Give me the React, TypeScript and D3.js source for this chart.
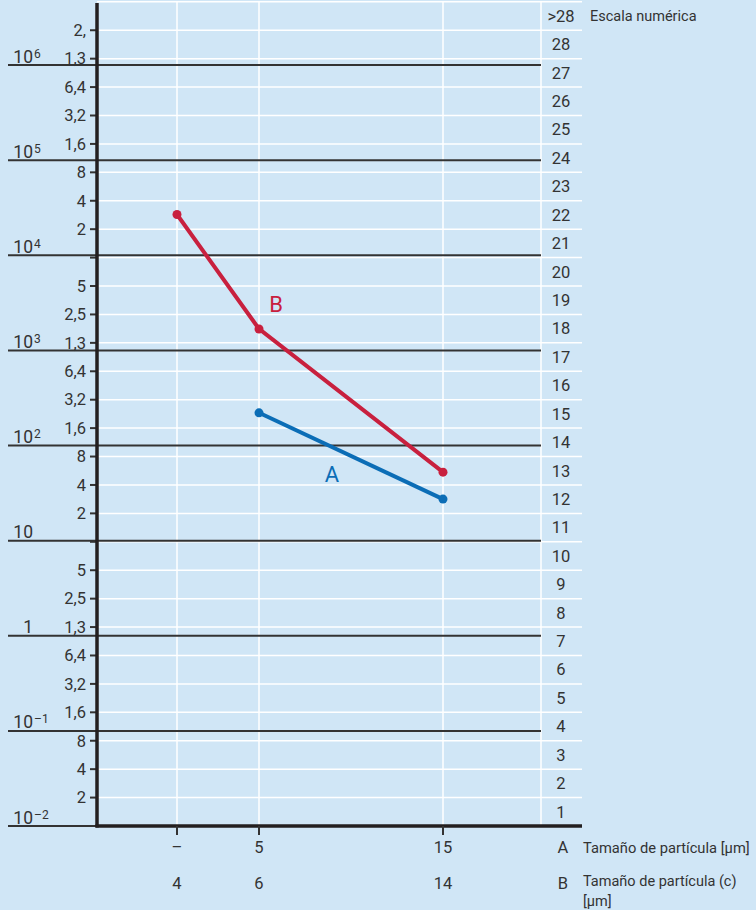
import * as d3 from "d3";

// particle counts per ml (log2 scale)
const sizesB = [4, 6, 14];
const sizesA = ["–", "5", "15"];
const seriesB = [30000, 1840, 56];
const seriesA = [null, 238, 29];

const leftTickLabels = [
  "2", "4", "8", "1,6", "3,2", "6,4", "1,3", "2,5", "5", "",
  "2", "4", "8", "1,6", "3,2", "6,4", "1,3", "2,5", "5", "",
  "2", "4", "8", "1,6", "3,2", "6,4", "1,3", "2,",
];
const decadeExps = [-2, -1, 0, 1, 2, 3, 4, 5, 6];
const codeLabels = [
  "1", "2", "3", "4", "5", "6", "7", "8", "9", "10", "11", "12", "13", "14",
  "15", "16", "17", "18", "19", "20", "21", "22", "23", "24", "25", "26", "27", "28", ">28",
];

const W = 756;
const H = 910;
const left = 97;
const right = 541;
const gridRight = 582;
const bottom = 826;
const step = 28.42;
const font = "Roboto, 'Open Sans', sans-serif";
const ink = "#333333";
const bg = "#d0e6f6";
const red = "#c8203e";
const blue = "#0b6db6";

const base = 0.01;
const y = d3
  .scaleLog()
  .base(2)
  .domain([base, base * 2 ** 29])
  .range([bottom, bottom - 29 * step]);

// decade lines are drawn on their own, slightly different spacing
const yDec = d3.scaleLinear().domain([-2, 6]).range([bottom, 65]);

const x = d3
  .scaleLinear()
  .domain([2, 4, 6, 14, 18])
  .range([left, 177, 259, 443, right]);

const tickY = (k: number) => y(base * 2 ** k);

const supText = (e: number) => (e === 0 || e === 1 ? "" : String(e).replace("-", "–"));

export default function App() {
  const line = d3
    .line<[number, number]>()
    .x((d) => x(d[0]))
    .y((d) => y(d[1]));

  const ptsB: [number, number][] = sizesB.map((s, i) => [s, seriesB[i]]);
  const ptsA: [number, number][] = sizesB
    .map((s, i) => [s, seriesA[i]] as [number, number | null])
    .filter((d) => d[1] != null) as [number, number][];

  const ks = d3.range(0, 30);

  return (
    <svg
      width={W}
      height={H}
      style={{ position: "absolute", left: 0, top: 0, fontFamily: font }}
    >
      <rect width={W} height={H} fill={bg} />

      {/* white grid */}
      {ks.map((k) => (
        <line
          key={"h" + k}
          x1={left}
          x2={gridRight}
          y1={tickY(k)}
          y2={tickY(k)}
          stroke="#fff"
          strokeWidth={1.5}
        />
      ))}
      {[...sizesB, 18].map((s) => (
        <line
          key={"v" + s}
          x1={x(s)}
          x2={x(s)}
          y1={tickY(29)}
          y2={bottom}
          stroke="#fff"
          strokeWidth={1.5}
        />
      ))}

      {/* decade lines */}
      {decadeExps.map((e) => (
        <g key={"d" + e}>
          <line
            x1={8}
            x2={right}
            y1={yDec(e)}
            y2={yDec(e)}
            stroke={ink}
            strokeWidth={2}
          />
          <text
            x={33}
            y={yDec(e) - 2.5}
            textAnchor="end"
            fontSize={17.5}
            fill={ink}
          >
            {e === 0 ? "1" : "10"}
          </text>
          {supText(e) && (
            <text x={34} y={yDec(e) - 7.5} fontSize={12} fill={ink}>
              {supText(e)}
            </text>
          )}
        </g>
      ))}

      {/* left ticks */}
      {leftTickLabels.map((lab, i) => (
        <g key={"lt" + i} transform={`translate(0,${tickY(i + 1)})`}>
          <line x1={90} x2={left} stroke={ink} strokeWidth={2} />
          <text x={86} dy="0.35em" textAnchor="end" fontSize={16.5} fill={ink}>
            {lab}
          </text>
        </g>
      ))}

      {/* right code scale */}
      {codeLabels.map((lab, i) => (
        <text
          key={"c" + i}
          x={561}
          y={(tickY(i) + tickY(i + 1)) / 2}
          dy="0.35em"
          textAnchor="middle"
          fontSize={16.5}
          fill={ink}
        >
          {lab}
        </text>
      ))}
      <text x={590} y={21} fontSize={14.5} fill={ink}>
        Escala numérica
      </text>

      {/* axes */}
      <line x1={left} x2={left} y1={3} y2={bottom + 1.5} stroke="#231f20" strokeWidth={3.5} />
      <line x1={left - 1.5} x2={gridRight} y1={bottom} y2={bottom} stroke="#231f20" strokeWidth={3.5} />

      {/* bottom ticks and labels */}
      {sizesB.map((s, i) => (
        <g key={"bt" + i} transform={`translate(${x(s)},0)`}>
          <line y1={bottom} y2={bottom + 9} stroke={ink} strokeWidth={2} />
          <text y={853} textAnchor="middle" fontSize={16.5} fill={ink}>
            {sizesA[i]}
          </text>
          <text y={889} textAnchor="middle" fontSize={16.5} fill={ink}>
            {s}
          </text>
        </g>
      ))}
      <text x={563} y={853} textAnchor="middle" fontSize={16.5} fill={ink}>
        A
      </text>
      <text x={583} y={853} fontSize={14.7} fill={ink}>
        Tamaño de partícula [µm]
      </text>
      <text x={563} y={889} textAnchor="middle" fontSize={16.5} fill={ink}>
        B
      </text>
      <text x={583} y={886} fontSize={14.5} fill={ink}>
        Tamaño de partícula (c)
      </text>
      <text x={583} y={905.5} fontSize={14.5} fill={ink}>
        [µm]
      </text>

      {/* series */}
      <path d={line(ptsB) ?? ""} fill="none" stroke={red} strokeWidth={4} />
      {ptsB.map((d, i) => (
        <circle key={"pb" + i} cx={x(d[0])} cy={y(d[1])} r={4.5} fill={red} />
      ))}
      <path d={line(ptsA) ?? ""} fill="none" stroke={blue} strokeWidth={4} />
      {ptsA.map((d, i) => (
        <circle key={"pa" + i} cx={x(d[0])} cy={y(d[1])} r={4.5} fill={blue} />
      ))}
      <text x={276} y={312} textAnchor="middle" fontSize={22} fill={red}>
        B
      </text>
      <text x={332} y={482} textAnchor="middle" fontSize={22} fill={blue}>
        A
      </text>
    </svg>
  );
}
